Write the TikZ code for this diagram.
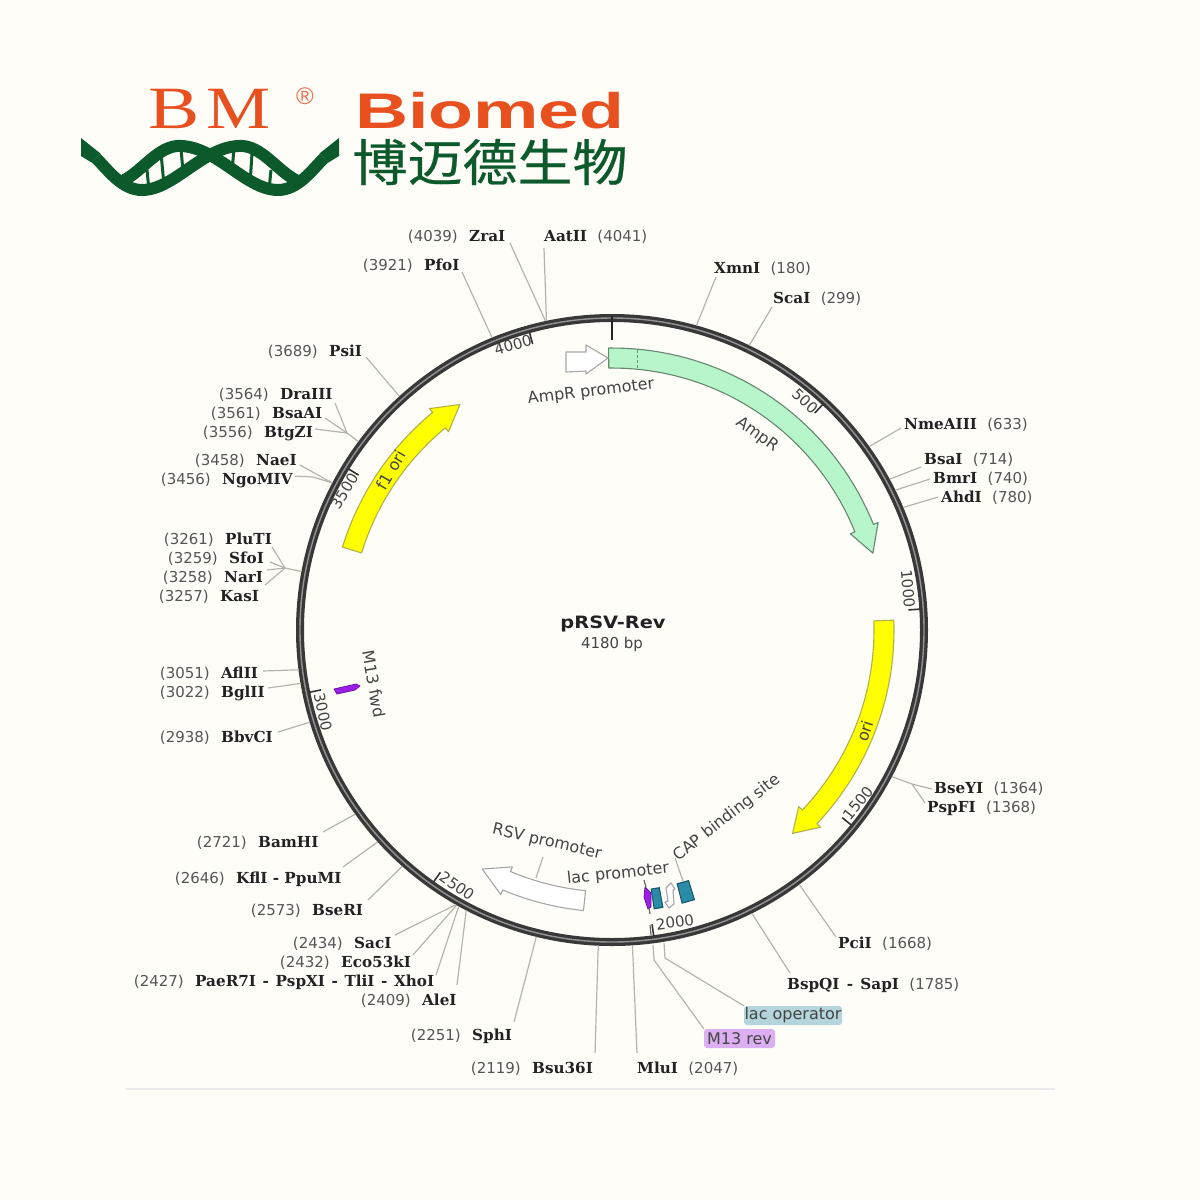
\documentclass[tikz,border=0pt]{standalone}
\usepackage{fontspec}
\setmainfont{DejaVu Sans}
\newfontfamily\enzfont{DejaVu Serif}[BoldFont={DejaVu Serif Bold}]
\newfontfamily\logoserif{Liberation Serif}
\newfontfamily\logosans{Liberation Sans}
\newfontfamily\cjkfont{Noto Sans CJK SC}[FakeBold=0.5]
\definecolor{paper}{HTML}{FFFDF8}
\definecolor{numcol}{HTML}{555555}
\definecolor{enzcol}{HTML}{222222}
\definecolor{leadcol}{HTML}{B4B4AC}
\definecolor{labcol}{HTML}{444444}
\definecolor{logoor}{HTML}{E8501F}
\definecolor{logogr}{HTML}{0C5A2B}
\definecolor{ampgreen}{HTML}{B7F5CB}
\definecolor{yellowb}{HTML}{FFFF00}
\definecolor{yellowe}{HTML}{B0B050}
\definecolor{tealb}{HTML}{2A8BA8}
\definecolor{purp}{HTML}{9A1EE8}
\tikzset{
 numtxt/.style={font=\fontsize{15}{16}\selectfont, text=numcol, inner sep=0pt},
 enztxt/.style={font=\enzfont\bfseries\fontsize{15.2}{16}\selectfont, text=enzcol, inner sep=0pt},
 leader/.style={draw=leadcol, line width=1.2pt, line join=round},
 feattxt/.style={font=\fontsize{16}{18}\selectfont, text=labcol, inner sep=0pt},
 ticktxt/.style={font=\fontsize{15}{16}\selectfont, text=labcol, inner sep=0pt},
 genegreen/.style={fill=ampgreen, draw=black!45!ampgreen, line width=1.1pt, line join=round},
 geneyellow/.style={fill=yellowb, draw=yellowe, line width=1.1pt, line join=round},
 genewhite/.style={fill=white, draw=black!35, line width=1.1pt, line join=round},
 geneteal/.style={fill=tealb, draw=black!40!tealb, line width=1pt},
 genepurple/.style={fill=purp, draw=purp!70!black, line width=.8pt, line join=round},
 strand/.style={draw=logogr, line width=12pt},
 rung/.style={draw=logogr, line width=3pt},
}
% enzyme with number on the left: id, number, name, x of name, y
\newcommand{\enzL}[5]{%
 \node[enztxt,anchor=mid west,yshift=-3pt] (#1) at (#4,#5) {#3};
 \node[numtxt,anchor=mid east] (#1n) at ([xshift=-11pt]#1.mid west) {#2};}
% enzyme with number on the right
\newcommand{\enzR}[5]{%
 \node[enztxt,anchor=mid west,yshift=-3pt] (#1) at (#4,#5) {#3};
 \node[numtxt,anchor=mid west] (#1n) at ([xshift=10pt]#1.mid east) {#2};}
% ring site coordinate: id, position in bp
\newcommand{\site}[2]{\coordinate (#1) at ({612+316*sin(#2/4180*360)},{630-316*cos(#2/4180*360)});}
% gene arrow: style, tail angle, head base angle, tip angle
\newcommand{\gene}[4]{%
 \path[#1] plot[domain=#2:#3,samples=40] ({612+282*sin(\x)},{630-282*cos(\x)})
  -- ({612+287*sin(#3)},{630-287*cos(#3)})
  -- ({612+272*sin(#4)},{630-272*cos(#4)})
  -- ({612+257*sin(#3)},{630-257*cos(#3)})
  -- plot[domain=#3:#2,samples=40] ({612+262*sin(\x)},{630-262*cos(\x)}) -- cycle;}
% band without head: style, from, to
\newcommand{\band}[3]{%
 \path[#1] ({612+282*sin(#2)},{630-282*cos(#2)}) -- ({612+282*sin(#3)},{630-282*cos(#3)})
  -- ({612+262*sin(#3)},{630-262*cos(#3)}) -- ({612+262*sin(#2)},{630-262*cos(#2)}) -- cycle;}
% ring tick and label: id, position, rotation, text x, text y
\newcommand{\tick}[5]{%
 \draw[line width=1.6pt,black!80] ({612+309*sin(#2/4180*360)},{630-309*cos(#2/4180*360)}) -- ({612+297*sin(#2/4180*360)},{630-297*cos(#2/4180*360)});
 \node[ticktxt,rotate=#3] (#1) at (#4,#5) {#2};}
\begin{document}
\begin{tikzpicture}[x=1pt,y=-1pt]
\useasboundingbox (0,0) rectangle (1200,1200);
\fill[paper] (0,0) rectangle (1200,1200);

%% logo
\node[inner sep=0pt,text=logoor,font=\logoserif\fontsize{60}{60}\selectfont,xscale=1.28,anchor=base] (logoB) at (174,128) {B};
\node[inner sep=0pt,text=logoor,font=\logoserif\fontsize{60}{60}\selectfont,xscale=1.2,anchor=base] (logoM) at (239,128) {M};
\node[inner sep=0pt,text=logoor!80!white,font=\logosans\fontsize{24}{24}\selectfont] (logoR) at (305,96) {®};
\node[inner sep=0pt,text=logoor,font=\logosans\bfseries\fontsize{50}{50}\selectfont,xscale=1.47,anchor=base] (logoBio) at (490,128) {Biomed};
\node[inner sep=0pt,text=logogr,font=\cjkfont\fontsize{50}{50}\selectfont,xscale=1.1,anchor=center] (logoCn) at (490,162) {博迈德生物};
\draw[strand] (96,158) .. controls (108,170) and (122,190) .. (142,190) .. controls (175,190) and (205,144) .. (243,146) .. controls (265,148) and (280,175) .. (302,183);
\draw[strand] (324,158) .. controls (312,170) and (298,190) .. (278,190) .. controls (245,190) and (215,144) .. (177,146) .. controls (155,148) and (140,175) .. (118,183);
\fill[logogr] (81,138) -- (100.5,153.5) -- (91.5,162.5) -- (81,156) -- cycle;
\fill[logogr] (339,138) -- (319.5,153.5) -- (328.5,162.5) -- (339,156) -- cycle;
\draw[rung] (147,170) -- (149,190);
\draw[rung] (161,153) -- (164,185);
\draw[rung] (181,148) -- (183,172);
\draw[rung] (234,148) -- (232,172);
\draw[rung] (252,153) -- (250,185);
\draw[rung] (271,170) -- (269,190);

%% plasmid ring
\draw[line width=8pt,black!78] (612,630) circle (312);
\draw[line width=1.4pt,black!42] (612,630) circle (312);
\draw[line width=2.5pt,black!85] (612,316) -- (612,340);

%% ticks
\tick{t500}{500}{-43}{805}{401}
\tick{t1000}{1000}{-85}{908}{589}
\tick{t1500}{1500}{51}{858}{803}
\tick{t2000}{2000}{8}{675}{922}
\tick{t2500}{2500}{-35}{457}{886}
\tick{t3000}{3000}{-78}{323}{712}
\tick{t3500}{3500}{59}{345}{491}
\tick{t4000}{4000}{16}{513}{345}

%% features
\gene{genegreen}{-0.7}{68}{73.6}
\draw[line width=1pt,black!40!ampgreen,dash pattern=on 3pt off 2pt] (637,350) -- (637,368);
\gene{geneyellow}{88}{133.4}{138.4}
\gene{geneyellow}{-72.9}{-39.5}{-34}
\gene{genewhite}{185.8}{202.8}{208.5}
\path[genewhite] (566,352) -- (586,352) -- (586,345) -- (608,358) -- (586,374) -- (586,371) -- (566,372) -- cycle;
\band{geneteal}{163}{165.6}
\path[genewhite] (671,883) -- (675,889) -- (673,890) -- (674,904) -- (669,908) -- (665,902) -- (668,901) -- (666,888) -- cycle;
\band{geneteal}{169.6}{171.4}
\path[genepurple] (645,887) -- (651,893) -- (651,907) -- (648,909) -- (644,897) -- cycle;
\path[genepurple] (334,689) -- (356,684) -- (360,686) -- (355,690) -- (337,694) -- cycle;

%% feature labels
\node[font=\bfseries\fontsize{17}{18}\selectfont,text=enzcol,inner sep=0pt,xscale=1.14] (title) at (613,624) {pRSV-Rev};
\node[font=\fontsize{15}{16}\selectfont,text=labcol,inner sep=0pt] (size) at (612,644) {4180 bp};
\node[feattxt,rotate=7] (fAmpP) at (591,392) {AmpR promoter};
\node[feattxt,rotate=-36] (fAmp) at (757,435) {AmpR};
\node[feattxt,rotate=72] (fOri) at (865,731) {ori};
\node[feattxt,rotate=60] (fF1) at (391,470) {f1 ori};
\node[feattxt,rotate=-80] (fM13) at (374,684) {M13 fwd};
\node[feattxt,rotate=-13] (fRsv) at (547,842) {RSV promoter};
\node[feattxt,rotate=6] (fLac) at (618,874) {lac promoter};
\node[feattxt,rotate=38] (fCap) at (727,818) {CAP binding site};
\node[feattxt,fill=tealb!35!paper,rounded corners=3pt,minimum width=98pt,minimum height=19pt] (fLacOp) at (793,1015.5) {lac operator};
\node[feattxt,fill=purp!35!paper,rounded corners=3pt,minimum width=71pt,minimum height=19pt] (fM13r) at (739.5,1038.5) {M13 rev};

%% enzyme labels
\enzL{zra}{(4039)}{ZraI}{469}{236}
\enzR{aat}{(4041)}{AatII}{544}{236}
\enzL{pfo}{(3921)}{PfoI}{424}{265}
\enzR{xmn}{(180)}{XmnI}{714}{268}
\enzR{sca}{(299)}{ScaI}{773}{298}
\enzL{psi}{(3689)}{PsiI}{329}{351}
\enzR{nme}{(633)}{NmeAIII}{904}{424}
\enzR{bsa}{(714)}{BsaI}{924}{459}
\enzR{bmr}{(740)}{BmrI}{933}{478}
\enzR{ahd}{(780)}{AhdI}{941}{497}
\enzL{dra}{(3564)}{DraIII}{280}{394}
\enzL{bsaa}{(3561)}{BsaAI}{272}{413}
\enzL{btg}{(3556)}{BtgZI}{264}{432}
\enzL{nae}{(3458)}{NaeI}{256}{460}
\enzL{ngo}{(3456)}{NgoMIV}{222}{479}
\enzL{plu}{(3261)}{PluTI}{225}{539}
\enzL{sfo}{(3259)}{SfoI}{229}{558}
\enzL{nar}{(3258)}{NarI}{224}{577}
\enzL{kas}{(3257)}{KasI}{220}{596}
\enzL{afl}{(3051)}{AflII}{221}{673}
\enzL{bgl}{(3022)}{BglII}{221}{692}
\enzL{bbv}{(2938)}{BbvCI}{221}{737}
\enzL{bam}{(2721)}{BamHI}{258}{842}
\enzL{kfl}{(2646)}{KflI - PpuMI}{236}{878}
\enzL{bse}{(2573)}{BseRI}{312}{910}
\enzL{sac}{(2434)}{SacI}{354}{943}
\enzL{eco}{(2432)}{Eco53kI}{341}{962}
\enzL{pae}{(2427)}{PaeR7I\hspace{1.3pt} - \hspace{1.3pt}PspXI\hspace{1.3pt} - \hspace{1.3pt}TliI\hspace{1.3pt} - \hspace{1.3pt}XhoI}{195}{981}
\enzL{ale}{(2409)}{AleI}{422}{1000}
\enzL{sph}{(2251)}{SphI}{472}{1035}
\enzL{bsu}{(2119)}{Bsu36I}{532}{1068}
\enzR{mlu}{(2047)}{MluI}{637}{1068}
\enzR{pci}{(1668)}{PciI}{838}{943}
\enzR{bsp}{(1785)}{BspQI\hspace{2pt} - \hspace{2pt}SapI}{787}{984}
\enzR{bsey}{(1364)}{BseYI}{934}{788}
\enzR{psp}{(1368)}{PspFI}{927}{807}

%% ring sites
\site{szra}{4039}\site{saat}{4041}\site{spfo}{3921}\site{sxmn}{180}\site{ssca}{299}\site{spsi}{3689}
\site{snme}{633}\site{sbsa}{714}\site{sbmr}{740}\site{sahd}{780}
\site{sdra}{3560}\site{snae}{3457}\site{splu}{3259}\site{safl}{3051}\site{sbgl}{3022}\site{sbbv}{2938}
\site{sbam}{2721}\site{skfl}{2646}\site{sbse}{2573}\site{ssac}{2434}\site{seco}{2432}\site{spae}{2427}\site{sale}{2409}
\site{ssph}{2251}\site{sbsu}{2119}\site{smlu}{2047}\site{spci}{1668}\site{sbsp}{1785}\site{sbsey}{1366}

%% leaders
\draw[leader] (szra) -- (510,243);
\draw[leader] (saat) -- (544,248);
\draw[leader] (spfo) -- (462,272);
\draw[leader] (sxmn) -- (716,277);
\draw[leader] (ssca) -- (772,307);
\draw[leader] (spsi) -- (366,357);
\draw[leader] (snme) -- (901,428);
\draw[leader] (sbsa) -- (921,467);
\draw[leader] (sbmr) -- (930,479);
\draw[leader] (sahd) -- (938,497);
\coordinate (edra) at (347,433);
\draw[leader] (sdra) -- (edra) -- (335,403);
\draw[leader] (edra) -- (325,418);
\draw[leader] (edra) -- (315,429);
\draw[leader] (snae) -- (300,465);
\draw[leader] (snae) -- (313,477) -- (295,476);
\coordinate (eplu) at (285,568);
\draw[leader] (splu) -- (eplu) -- (272,547);
\draw[leader] (eplu) -- (270,562);
\draw[leader] (eplu) -- (267,570);
\draw[leader] (eplu) -- (265,585);
\draw[leader] (safl) -- (263,671);
\draw[leader] (sbgl) -- (268,688);
\draw[leader] (sbbv) -- (278,732);
\draw[leader] (sbam) -- (323,832);
\draw[leader] (skfl) -- (343,867);
\draw[leader] (sbse) -- (368,900);
\draw[leader] (ssac) -- (395,935);
\draw[leader] (seco) -- (413,955);
\draw[leader] (spae) -- (436,975);
\draw[leader] (sale) -- (457,985);
\draw[leader] (ssph) -- (514,1022);
\draw[leader] (sbsu) -- (595,1053);
\draw[leader] (smlu) -- (637,1053);
\draw[leader] (spci) -- (836,937);
\draw[leader] (sbsp) -- (790,973);
\coordinate (ebsey) at (912,784);
\draw[leader] (sbsey) -- (ebsey) -- (932,789);
\draw[leader] (ebsey) -- (925,803);
\draw[leader] (664,943) -- (665,958) -- (fLacOp.north west);
\draw[leader] (653,945) -- (654,960) -- (fM13r.north west);
\draw[leader] (675,858) -- (683,881);
\draw[leader] (543,857) -- (536,878);
\draw[line width=1.2pt,black!60] (644,880) -- (646,887);
\draw[line width=1.2pt,black!60] (649,908) -- (650,914);
\draw[line width=1.2pt,black!60] (650,925) -- (651,935);

%% bottom rule
\draw[line width=1.2pt,color=black!8] (125,1089) -- (1055,1089);
\end{tikzpicture}
\end{document}
